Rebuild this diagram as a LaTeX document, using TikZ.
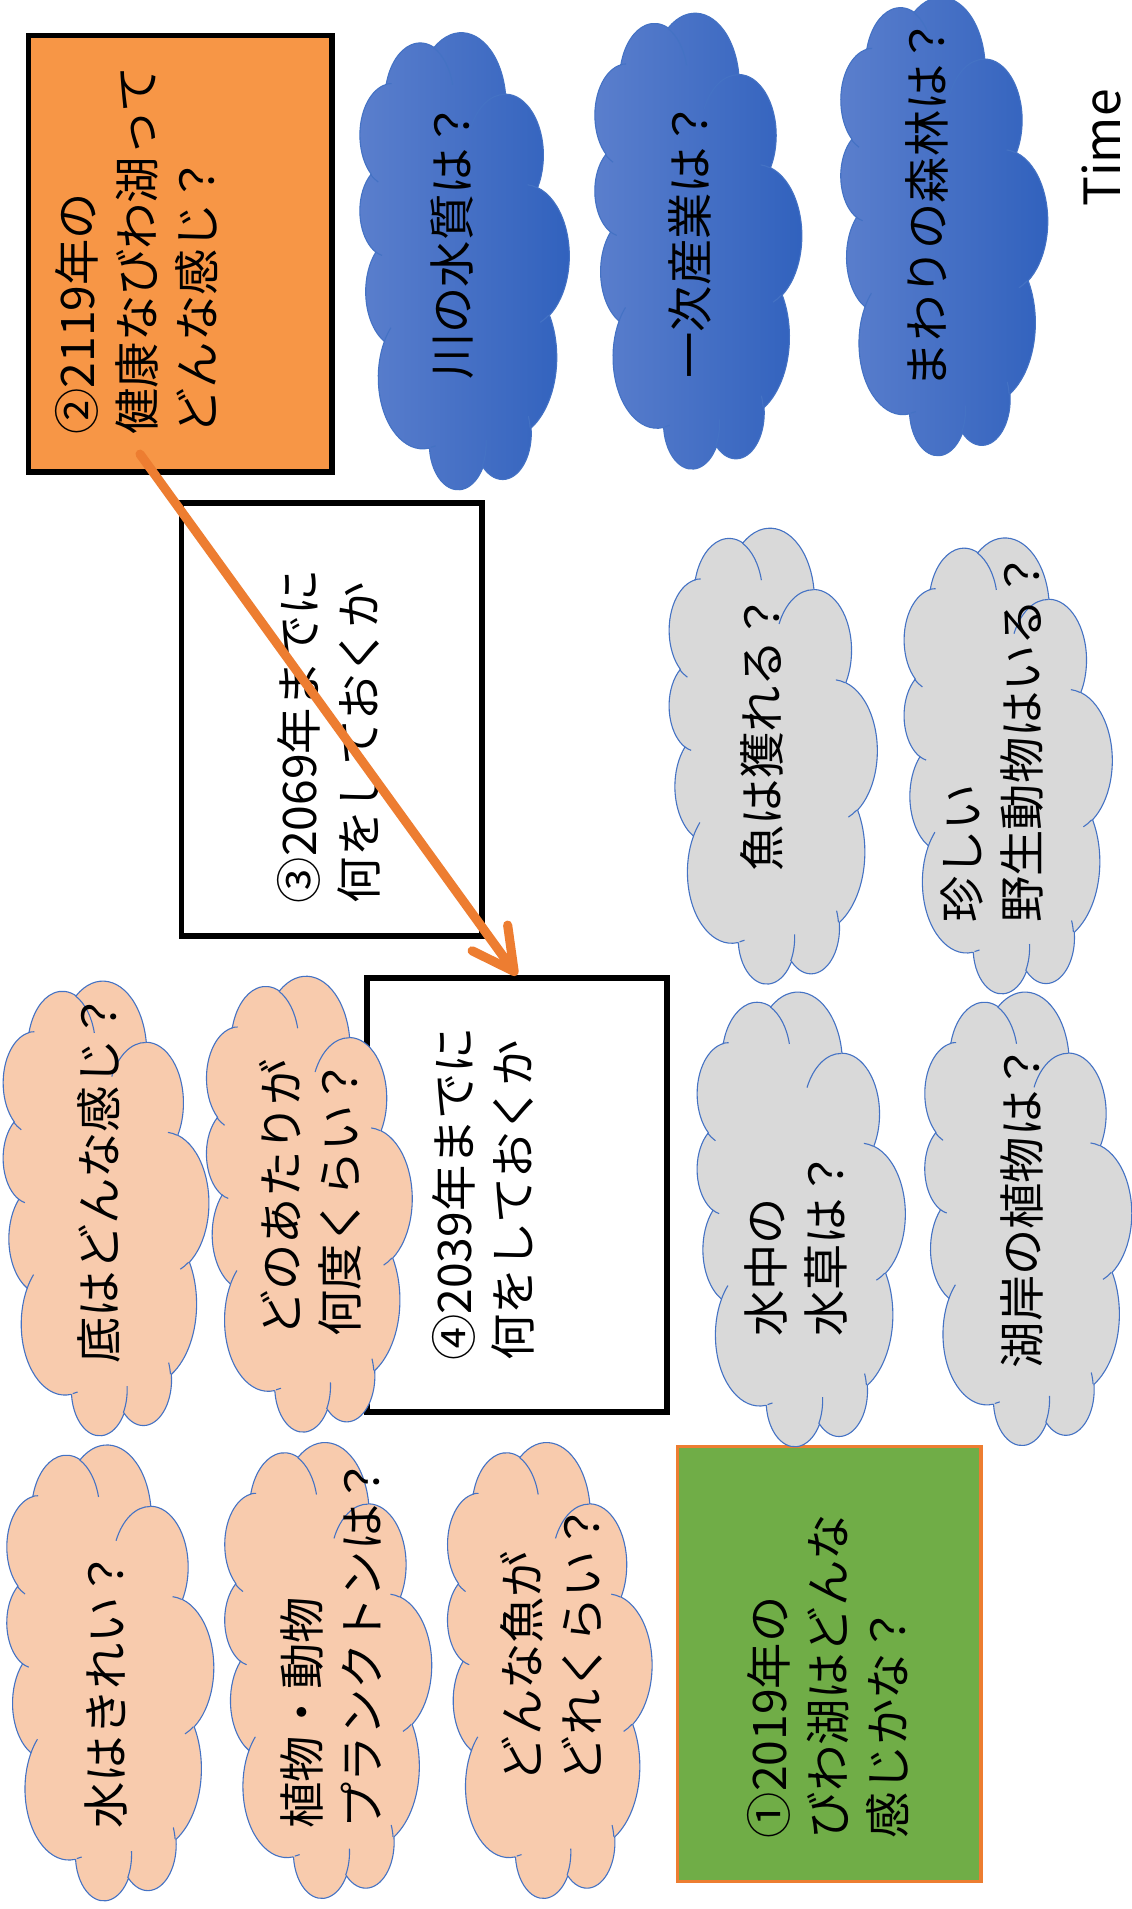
\documentclass[tikz,border=0pt]{standalone}
\usepackage{fontspec}
\setmainfont{Noto Sans CJK JP}
\usetikzlibrary{arrows.meta}
\definecolor{boxorange}{HTML}{F79646}
\definecolor{arroworange}{HTML}{ED7D31}
\definecolor{boxgreen}{HTML}{70AD47}
\definecolor{peach}{HTML}{F8CBAD}
\definecolor{cloudgray}{HTML}{D9D9D9}
\definecolor{cloudline}{HTML}{4472C4}
\definecolor{bluelight}{HTML}{5B7FCD}
\definecolor{bluedark}{HTML}{3061BD}

% PowerPoint-style arc: radii, visual start angle, visual sweep
\newcommand\pparc[4]{arc[x radius=#1, y radius=#2,
  start angle={atan2((#1)*sin(#3),(#2)*cos(#3))},
  delta angle={mod(atan2((#1)*sin((#3)+(#4)),(#2)*cos((#3)+(#4)))-atan2((#1)*sin(#3),(#2)*cos(#3))+720,360)}]}

\newcommand\cloudpath{(39.00,143.70)
 \pparc{67.53}{91.90}{-190.4875}{123.7805}
 \pparc{53.33}{72.67}{-144.1024}{89.9452}
 \pparc{43.65}{59.45}{-145.8079}{99.7230}
 \pparc{48.57}{65.95}{-130.9861}{117.2417}
 \pparc{53.33}{72.73}{-78.7089}{109.0269}
 \pparc{67.75}{92.20}{-46.2673}{130.2690}
 \pparc{57.85}{78.67}{0.6250}{114.0333}
 \pparc{67.52}{92.15}{22.4516}{115.1726}
 \pparc{77.20}{105.43}{66.2426}{75.7110}
 \pparc{43.60}{59.18}{-274.9421}{146.7356}
 \pparc{43.45}{59.45}{-246.8285}{152.5189}
 -- cycle}

\newcommand\cloudinner{
 (46.93,261.77) \pparc{43.45}{59.45}{86.7420}{26.4295}
 (69.28,348.99) \pparc{43.60}{59.18}{73.6105}{11.4475}
 (164.78,390.90) \pparc{67.52}{92.15}{137.6242}{14.0811}
 (288.27,347.51) \pparc{67.52}{92.15}{6.4533}{15.9984}
 (341.29,229.54) \pparc{57.85}{78.67}{-70.2924}{70.9174}
 (417.98,153.54) \pparc{53.33}{72.73}{32.8172}{46.6694}
 (383.24,54.26) \pparc{48.57}{65.95}{-13.7443}{14.8589}
 (290.78,39.52) \pparc{48.57}{65.95}{-149.1815}{18.1954}
 (221.41,47.20) \pparc{43.65}{59.45}{-163.4943}{17.6864}
 (140.00,51.92) \pparc{67.53}{91.90}{-66.7070}{12.3194}
 (41.27,157.89) \pparc{67.53}{91.90}{160.5201}{8.5921}}

% #1 x0, #2 x1, #3 y0, #4 y1 (image coordinates, y downwards), #5 style
\newcommand\drawcloud[5]{%
  \pgfmathsetmacro\cldw{(#2-#1)/432}%
  \pgfmathsetmacro\cldh{(#4-#3)/432}%
  \begin{scope}[cm={0,\cldh,\cldw,0,(#1,-#4)}]
    \path[#5] \cloudpath;
    \draw[cloudedge] \cloudinner;
  \end{scope}}

\tikzset{
  txt/.style={rotate=90, anchor=west, inner sep=0pt, align=left,
              font=\fontsize{38}{49}\selectfont},
  bluecloud/.style={left color=bluelight, right color=bluedark, draw=cloudline, line width=0.9pt},
  graycloud/.style={fill=cloudgray, draw=cloudline, line width=0.9pt},
  peachcloud/.style={fill=peach, draw=cloudline, line width=0.9pt},
  cloudedge/.style={draw=cloudline, line width=0.9pt},
  framebox/.style={draw=black, line width=4.5pt, inner sep=0pt},
}

\begin{document}
\begin{tikzpicture}[x=1pt,y=1pt]
\fill[white] (0,0) rectangle (929,-1568);
\useasboundingbox (0,0) rectangle (929,-1568);

% boxes
\node[framebox, fill=boxorange, minimum width=249.5pt, minimum height=358.5pt] (b2) at (148,-208.5) {};
\node[framebox, fill=white, minimum width=246.5pt, minimum height=355.5pt] (b3) at (272.5,-591) {};
\node[framebox, fill=white, minimum width=246.5pt, minimum height=356.5pt] (b4) at (424.5,-981.5) {};
\node[draw=arroworange, line width=2.5pt, fill=boxgreen, inner sep=0pt,
      minimum width=249.5pt, minimum height=357.5pt] (b1) at (681,-1367) {};

% blue clouds
\drawcloud{295}{467}{27}{402}{bluecloud}
\drawcloud{488}{658}{11}{385}{bluecloud}
\drawcloud{690}{860}{-2}{374}{bluecloud}
% gray clouds
\drawcloud{549}{720}{434}{808}{graycloud}
\drawcloud{742}{913}{442}{816}{graycloud}
\drawcloud{572}{743}{815}{1188}{graycloud}
\drawcloud{759}{929}{815}{1187}{graycloud}
% peach clouds
\drawcloud{2}{171}{806}{1179}{peachcloud}
\drawcloud{169}{338}{802}{1176}{peachcloud}
\drawcloud{5}{175}{1187}{1561}{peachcloud}
\drawcloud{184}{354}{1185}{1559}{peachcloud}
\drawcloud{367}{535}{1185}{1559}{peachcloud}

% texts
\node[txt] (t2) at (112,-357) {②2119年の\\健康なびわ湖って\\どんな感じ？};
\node[txt] (t3) at (270,-742) {③2069年までに\\何をしておくか};
\node[txt] (t4) at (397,-1118) {④2039年までに\\何をしておくか};
\node[txt] (t1) at (680,-1510) {①2019年の\\びわ湖はどんな\\感じかな？};
\node[txt] (q1) at (371,-312) {川の水質は？};
\node[txt] (q2) at (567,-311) {一次産業は？};
\node[txt] (q3) at (761,-319) {まわりの森林は？};
\node[txt] (q4) at (626,-716) {魚は獲れる？};
\node[txt] (q5) at (815,-758) {珍しい\\野生動物はいる？};
\node[txt] (q6) at (654,-1098) {水中の\\水草は？};
\node[txt] (q7) at (839,-1124) {湖岸の植物は？};
\node[txt] (q8) at (81,-1120) {底はどんな感じ？};
\node[txt] (q9) at (255,-1098) {どのあたりが\\何度くらい？};
\node[txt] (q10) at (87,-1502) {水はきれい？};
\node[txt] (q11) at (272,-1502) {植物・動物\\プランクトンは？};
\node[txt] (q12) at (453,-1464) {どんな魚が\\どれくらい？};
\node[rotate=90, anchor=base west, inner sep=0pt, font=\fontsize{41}{49}\selectfont] (time) at (920,-170) {Time};

% arrow
\coordinate (a0) at (115,-373);
\draw[arroworange, line width=7.5pt, line cap=round,
      -{Straight Barb[length=34pt 0 0, width=36pt 0 0, round]}] (a0) -- (b4.north);
\end{tikzpicture}
\end{document}
